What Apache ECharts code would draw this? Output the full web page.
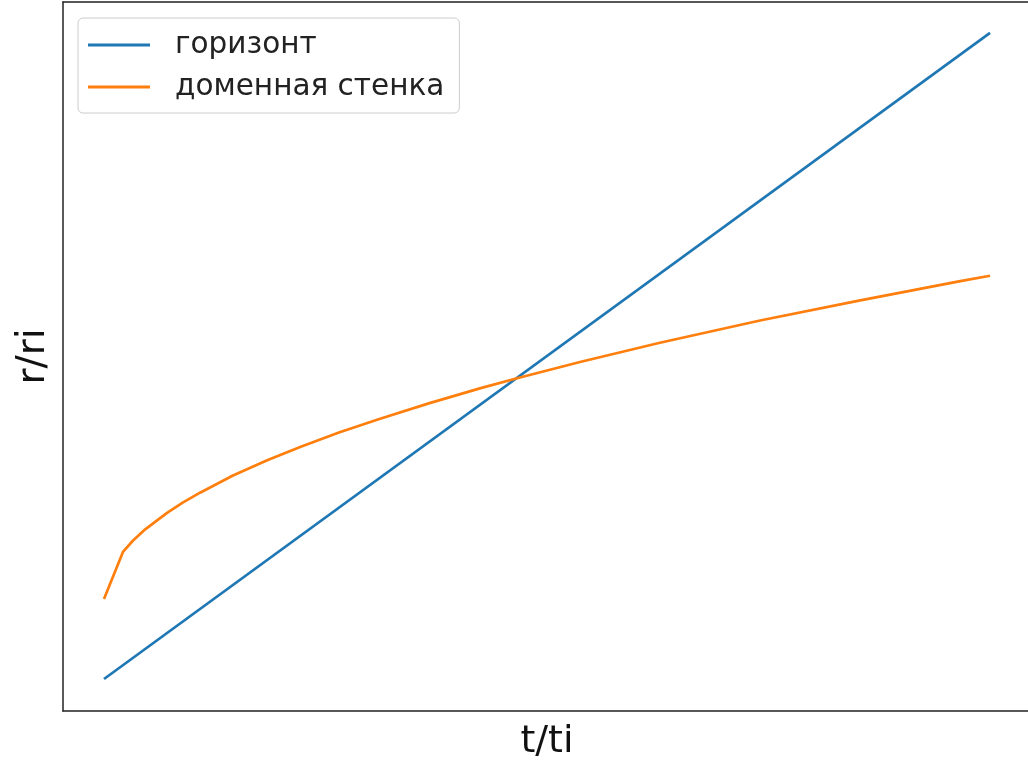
<!DOCTYPE html>
<html>
<head>
<meta charset="utf-8">
<script src="https://cdn.jsdelivr.net/npm/echarts@6/dist/echarts.min.js"></script>
<style>html,body{margin:0;padding:0;background:#fff;}#c{width:1028px;height:762px;}</style>
</head>
<body>
<div id="c"></div>
<script>
// horizon: r/ri = t/ti
const horizonT = [0, 2.15];
const horizonR = [0, 2.15];
// domain wall
const wallT = [0, 0.046, 0.070, 0.100, 0.153, 0.190, 0.233, 0.313, 0.396, 0.476, 0.570, 0.670, 0.790, 0.912, 1.000, 1.155, 1.349, 1.592, 1.835, 2.078, 2.150];
const wallR = [0.266, 0.423, 0.460, 0.498, 0.553, 0.586, 0.620, 0.677, 0.728, 0.772, 0.820, 0.866, 0.918, 0.967, 1.000, 1.055, 1.119, 1.193, 1.260, 1.324, 1.342];
const seriesNames = ['горизонт', 'доменная стенка'];
const xName = 't/ti';
const yName = 'r/ri';

const zip = (a, b) => a.map((v, i) => [v, b[i]]);
const frameLine = {show: true, onZero: false, lineStyle: {color: '#222', width: 1.5}};
const chart = echarts.init(document.getElementById('c'), null, {renderer: 'canvas'});
chart.setOption({
  animation: false,
  backgroundColor: '#fff',
  textStyle: {fontFamily: 'DejaVu Sans'},
  grid: {left: 63, top: 2, width: 968, height: 709, outerBoundsMode: 'none', containLabel: false, show: false},
  xAxis: [{
    type: 'value', min: -0.0995, max: 2.2494, position: 'bottom',
    name: xName, nameLocation: 'middle', nameGap: 12,
    nameTextStyle: {fontSize: 38, color: '#111', fontFamily: 'DejaVu Sans', verticalAlign: 'top'},
    axisLine: frameLine, axisTick: {show: false}, axisLabel: {show: false}, splitLine: {show: false}
  }, {
    type: 'value', min: -0.0995, max: 2.2494, position: 'top',
    axisLine: frameLine, axisTick: {show: false}, axisLabel: {show: false}, splitLine: {show: false}
  }],
  yAxis: {
    type: 'value', min: -0.1065, max: 2.2529, position: 'left',
    name: yName, nameLocation: 'middle', nameGap: 10,
    nameTextStyle: {fontSize: 39, color: '#111', fontFamily: 'DejaVu Sans'},
    axisLine: frameLine, axisTick: {show: false}, axisLabel: {show: false}, splitLine: {show: false}
  },
  legend: {
    orient: 'vertical', left: 78, top: 18,
    padding: [12, 15, 11, 10],
    backgroundColor: '#fff', borderColor: '#ccc', borderWidth: 1, borderRadius: 5,
    itemWidth: 62, itemHeight: 3, itemGap: 12,
    icon: 'rect',
    textStyle: {fontSize: 29.5, lineHeight: 30, color: '#222', fontFamily: 'DejaVu Sans', padding: [0, 0, 0, 20]},
    data: seriesNames
  },
  series: [
    {name: seriesNames[0], type: 'line', data: zip(horizonT, horizonR), showSymbol: false, symbol: 'none',
     lineStyle: {color: '#1f77b4', width: 2.7}, itemStyle: {color: '#1f77b4'}},
    {name: seriesNames[1], type: 'line', data: zip(wallT, wallR), showSymbol: false, symbol: 'none',
     lineStyle: {color: '#ff7f0e', width: 2.7}, itemStyle: {color: '#ff7f0e'}}
  ]
});
</script>
</body>
</html>
